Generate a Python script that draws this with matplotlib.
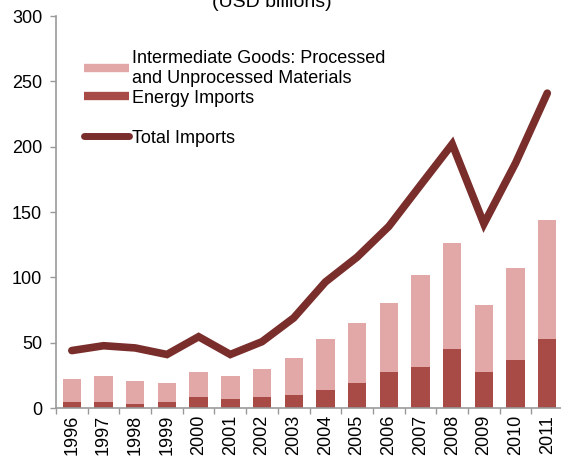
import numpy as np
import matplotlib
matplotlib.use("Agg")
import matplotlib.pyplot as plt
from matplotlib.lines import Line2D

plt.rcParams['font.family'] = ['Liberation Sans', 'DejaVu Sans']

years = ['1996', '1997', '1998', '1999', '2000', '2001', '2002', '2003',
         '2004', '2005', '2006', '2007', '2008', '2009', '2010', '2011']
# stacked bar tops (intermediate goods incl. energy) and energy part
energy = [4.9, 4.9, 3.0, 4.9, 8.4, 6.9, 8.4, 10.2,
          13.8, 19.1, 27.8, 31.4, 45.4, 27.8, 36.7, 52.5]
bar_total = [22.5, 24.2, 21.0, 19.0, 27.8, 24.2, 29.6, 38.3,
             52.5, 64.8, 80.6, 101.8, 126.0, 78.8, 106.9, 143.8]
total_imports = [44, 47.7, 46, 41, 54.6, 41, 50.8, 69,
                 96.5, 115.5, 139, 170.6, 202, 141, 187.5, 241]

c_inter = '#E2A8A7'
c_energy = '#A84A45'
c_total = '#7A2E2C'

intermediate = np.array(bar_total) - np.array(energy)
x = np.arange(len(years))

fig = plt.figure(figsize=(5.61, 4.59), dpi=100)
ax = fig.add_axes([0.0998, 0.111, 0.904, 0.854])

ax.bar(x, energy, width=0.58, color=c_energy, zorder=2)
ax.bar(x, intermediate, width=0.58, bottom=energy, color=c_inter, zorder=2)
ax.plot(x, total_imports, color=c_total, lw=5.5, solid_joinstyle='miter',
        solid_capstyle='round', zorder=3)

ax.set_xlim(-0.5, 15.5)
ax.set_ylim(0, 300)
ax.set_yticks([0, 50, 100, 150, 200, 250, 300])
ax.set_xticks(x)
ax.set_xticklabels(years, rotation=90, fontsize=13)
ax.tick_params(axis='x', length=0, pad=5)
ax.set_xticks(np.arange(-0.5, 16, 1), minor=True)
ax.tick_params(axis='x', which='minor', length=4, color='#999999', width=1)
ax.tick_params(axis='y', labelsize=13, length=4, color='#999999', width=1, pad=6)

for s in ['top', 'right']:
    ax.spines[s].set_visible(False)
for s in ['left', 'bottom']:
    ax.spines[s].set_color('#999999')
    ax.spines[s].set_linewidth(1.2)

handles = [Line2D([], [], color=c_inter, lw=6, solid_capstyle='butt'),
           Line2D([], [], color=c_energy, lw=6, solid_capstyle='butt'),
           Line2D([], [], color='none'),
           Line2D([], [], color=c_total, lw=5, solid_capstyle='round')]
labels = ['Intermediate Goods: Processed\nand Unprocessed Materials',
          'Energy Imports', '', 'Total Imports']
ax.legend(handles, labels, loc='upper left', bbox_to_anchor=(0.023, 0.955),
          frameon=False, fontsize=13, handlelength=2.5, handletextpad=0.17,
          labelspacing=0.17)

fig.text(0.485, 0.995, '(USD billions)', ha='center', va='center', fontsize=14)

fig.savefig('out.png', dpi=100)
